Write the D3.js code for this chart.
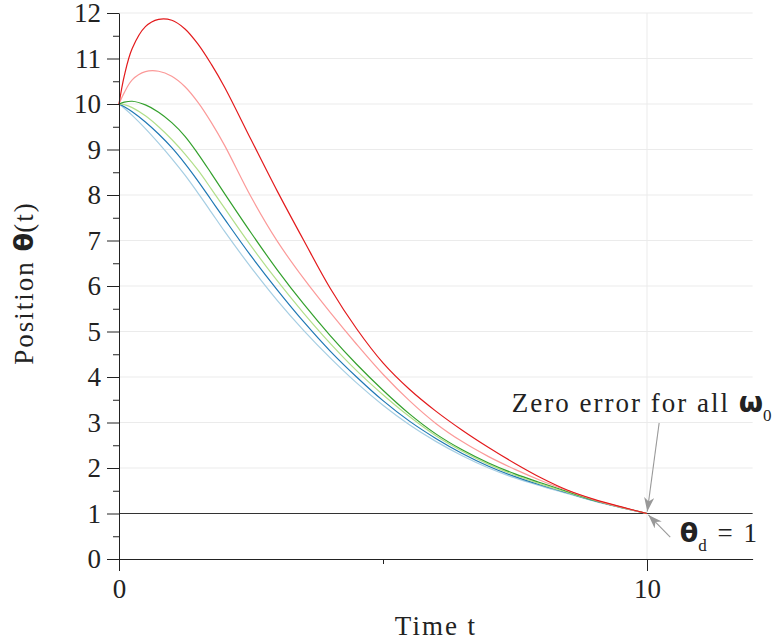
<!DOCTYPE html>
<html>
<head>
<meta charset="utf-8">
<script src="https://cdn.jsdelivr.net/npm/d3@7"></script>
<style>
body { margin: 0; background: #fff; }
svg text { font-family: "Liberation Serif", "Times New Roman", serif; font-size: 27px; fill: #222; }
svg text.word { letter-spacing: 2px; }
svg .sym { font-family: "DejaVu Sans", sans-serif; font-weight: bold; letter-spacing: 0; }
</style>
</head>
<body>
<div class="chart"></div>
<script>
// ------------------------------------------------------
// time samples shared by every trajectory
const times = [0, 0.1, 0.25, 0.5, 0.75, 1, 1.25, 1.5, 1.75, 2, 2.5, 3, 3.5, 4, 4.5, 5, 5.5, 6, 6.5, 7, 7.5, 8, 8.5, 9, 9.5, 10];
// position theta(t), one array per initial velocity
const thetaLightBlue = [10, 9.905, 9.75, 9.46, 9.14, 8.80, 8.435, 8.035, 7.62, 7.20, 6.41, 5.68, 5.02, 4.42, 3.87, 3.38, 2.95, 2.585, 2.27, 2.00, 1.78, 1.60, 1.435, 1.27, 1.13, 1.0];
const thetaBlue = [10, 9.94, 9.83, 9.605, 9.34, 9.04, 8.69, 8.30, 7.885, 7.47, 6.66, 5.91, 5.21, 4.57, 4.00, 3.48, 3.03, 2.65, 2.32, 2.04, 1.81, 1.62, 1.45, 1.28, 1.135, 1.0];
const thetaLightGreen = [10, 9.985, 9.92, 9.74, 9.50, 9.22, 8.90, 8.54, 8.13, 7.71, 6.88, 6.11, 5.40, 4.74, 4.14, 3.61, 3.13, 2.71, 2.37, 2.08, 1.84, 1.64, 1.46, 1.285, 1.135, 1.0];
const thetaGreen = [10, 10.04, 10.06, 9.98, 9.82, 9.59, 9.29, 8.90, 8.47, 8.03, 7.17, 6.35, 5.60, 4.91, 4.28, 3.71, 3.19, 2.75, 2.40, 2.11, 1.87, 1.67, 1.48, 1.29, 1.14, 1.0];
const thetaPink = [10, 10.25, 10.53, 10.71, 10.72, 10.61, 10.38, 10.03, 9.59, 9.09, 7.96, 6.98, 6.16, 5.42, 4.72, 4.06, 3.48, 2.98, 2.58, 2.25, 1.97, 1.72, 1.50, 1.30, 1.14, 1.0];
const thetaRed = [10, 10.62, 11.22, 11.70, 11.86, 11.84, 11.65, 11.31, 10.87, 10.37, 9.22, 8.08, 7.00, 5.95, 5.06, 4.31, 3.73, 3.25, 2.83, 2.45, 2.10, 1.78, 1.51, 1.31, 1.15, 1.0];
const seriesColors = ['#a6cee3', '#1f78b4', '#b2df8a', '#33a02c', '#fb9a99', '#e31a1c'];
// ------------------------------------------------------
const xMajorTicks = [0, 10];
const xMinorTicks = [5];
const yMajorTicks = [0, 1, 2, 3, 4, 5, 6, 7, 8, 9, 10, 11, 12];
const yMinorTicks = [0.5, 1.5, 2.5, 3.5, 4.5, 5.5, 6.5, 7.5, 8.5, 9.5, 10.5, 11.5];
const gridY = [1, 2, 3, 4, 5, 6, 7, 8, 9, 10, 11, 12];
const gridX = [10];
const thetaDesired = 1;
const finalTime = 10;
// ------------------------------------------------------
const plotWidth = 778;
const plotHeight = 641;

window.addEventListener('load', function () {
    const series = [thetaLightBlue, thetaBlue, thetaLightGreen, thetaGreen, thetaPink, thetaRed];

    const x = d3.scaleLinear().domain([0, 12]).range([119, 752.6]);
    const y = d3.scaleLinear().domain([0, 12]).range([559, 13]);

    const svg = d3.select('.chart')
        .append('svg')
        .attr('width', plotWidth)
        .attr('height', plotHeight);

    // --------------------------------------------------
    // grid
    svg.append('g').selectAll('line')
        .data(gridY).enter().append('line')
        .attr('x1', x(0)).attr('x2', x(12))
        .attr('y1', d => y(d)).attr('y2', d => y(d))
        .attr('stroke', '#ebebeb').attr('stroke-width', 1);
    svg.append('g').selectAll('line')
        .data(gridX).enter().append('line')
        .attr('x1', d => x(d)).attr('x2', d => x(d))
        .attr('y1', y(0)).attr('y2', y(12))
        .attr('stroke', '#ebebeb').attr('stroke-width', 1);

    // desired position
    svg.append('line')
        .attr('x1', x(0)).attr('x2', x(12))
        .attr('y1', y(thetaDesired)).attr('y2', y(thetaDesired))
        .attr('stroke', '#333').attr('stroke-width', 1.1);

    // --------------------------------------------------
    // trajectories
    const line = d3.line()
        .x((d, i) => x(times[i]))
        .y(d => y(d))
        .curve(d3.curveCatmullRom.alpha(0.5));

    svg.append('g').selectAll('path')
        .data(series).enter().append('path')
        .attr('d', line)
        .attr('fill', 'none')
        .attr('stroke', (d, i) => seriesColors[i])
        .attr('stroke-width', 1.2);

    // --------------------------------------------------
    // axes
    svg.append('g')
        .attr('transform', 'translate(0,' + y(0) + ')')
        .style('color', '#222')
        .call(d3.axisBottom(x).tickValues(xMajorTicks).tickSize(12).tickSizeOuter(0).tickPadding(8).tickFormat(d3.format('d')));
    svg.append('g')
        .attr('transform', 'translate(0,' + y(0) + ')')
        .style('color', '#222')
        .call(d3.axisBottom(x).tickValues(xMinorTicks).tickSize(5).tickFormat(''))
        .select('.domain').remove();
    svg.append('g')
        .attr('transform', 'translate(' + x(0) + ',0)')
        .style('color', '#222')
        .call(d3.axisLeft(y).tickValues(yMajorTicks).tickSize(12).tickSizeOuter(0).tickPadding(6).tickFormat(d3.format('d')));
    svg.append('g')
        .attr('transform', 'translate(' + x(0) + ',0)')
        .style('color', '#222')
        .call(d3.axisLeft(y).tickValues(yMinorTicks).tickSize(6).tickFormat(''))
        .select('.domain').remove();

    // axis titles
    svg.append('text')
        .attr('class', 'word')
        .attr('x', 436).attr('y', 635)
        .attr('text-anchor', 'middle')
        .text('Time t');

    const yTitle = svg.append('text')
        .attr('class', 'word')
        .attr('transform', 'translate(33,283) rotate(-90)')
        .attr('text-anchor', 'middle');
    yTitle.append('tspan').text('Position ');
    yTitle.append('tspan').attr('class', 'sym').text('θ');
    yTitle.append('tspan').text('(t)');

    // --------------------------------------------------
    // annotations
    svg.append('defs').append('marker')
        .attr('id', 'head')
        .attr('viewBox', '0 0 14 10')
        .attr('refX', 14).attr('refY', 5)
        .attr('markerWidth', 14).attr('markerHeight', 10)
        .attr('markerUnits', 'userSpaceOnUse')
        .attr('orient', 'auto')
        .append('path')
        .attr('d', 'M0,0 L14,5 L0,10 L4,5 Z')
        .attr('fill', '#999');

    const tipX = x(finalTime);
    const tipY = y(thetaDesired);
    const arrows = [
        { from: [10.23, 2.99], gap: 2 },
        { from: [10.44, 0.48], gap: 2 }
    ];
    svg.append('g').selectAll('line')
        .data(arrows).enter().append('line')
        .attr('x1', d => x(d.from[0]))
        .attr('y1', d => y(d.from[1]))
        .attr('x2', d => {
            const dx = tipX - x(d.from[0]), dy = tipY - y(d.from[1]);
            const len = Math.hypot(dx, dy);
            return tipX - dx / len * d.gap;
        })
        .attr('y2', d => {
            const dx = tipX - x(d.from[0]), dy = tipY - y(d.from[1]);
            const len = Math.hypot(dx, dy);
            return tipY - dy / len * d.gap;
        })
        .attr('stroke', '#999')
        .attr('stroke-width', 1.1)
        .attr('marker-end', 'url(#head)');

    const note1 = svg.append('text')
        .attr('class', 'word')
        .attr('x', x(7.44)).attr('y', y(3.23));
    note1.append('tspan').text('Zero error for all ');
    note1.append('tspan').attr('class', 'sym').style('font-size', '28px').text('ω');
    note1.append('tspan').attr('dy', 9).style('font-size', '17px').text('0');

    const note2 = svg.append('text')
        .attr('class', 'word')
        .attr('x', x(10.62)).attr('y', y(0.37));
    note2.append('tspan').attr('class', 'sym').text('θ');
    note2.append('tspan').attr('dy', 9).style('font-size', '17px').text('d');
    note2.append('tspan').attr('dy', -9).text(' = 1');
}, false);
</script>
</body>
</html>
